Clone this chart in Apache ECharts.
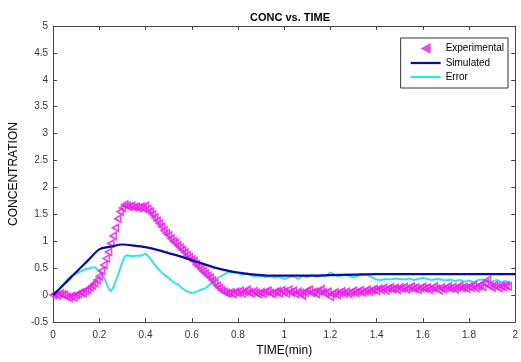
<!DOCTYPE html>
<html><head><meta charset="utf-8">
<script src="https://cdn.jsdelivr.net/npm/echarts@6/dist/echarts.min.js"></script>
<style>html,body{margin:0;padding:0;background:#fff}#c{width:521px;height:362px}</style>
</head><body><div id="c"></div>
<script>
var xTicks = [0,0.2,0.4,0.6,0.8,1,1.2,1.4,1.6,1.8,2];
var yTicks = [-0.5,0,0.5,1,1.5,2,2.5,3,3.5,4,4.5,5];
// Experimental: t = 0.00 .. 1.97 step 0.01
var expStart = 0, expStep = 0.01;
var expValues = [
 0,0.02,-0.01,0.03,0.01,0.0,-0.03,-0.05,-0.02,-0.04,
 0.0,0.02,0.05,0.04,0.08,0.1,0.14,0.18,0.22,0.28,
 0.35,0.45,0.56,0.68,0.8,0.96,1.1,1.25,1.42,1.55,
 1.62,1.68,1.66,1.64,1.66,1.63,1.64,1.62,1.64,1.61,
 1.66,1.6,1.55,1.5,1.44,1.38,1.33,1.27,1.2,1.15,
 1.11,1.05,1.0,0.97,0.92,0.88,0.84,0.79,0.74,0.7,
 0.66,0.63,0.57,0.53,0.48,0.44,0.4,0.36,0.32,0.27,
 0.22,0.17,0.13,0.09,0.06,0.04,0.03,0.05,0.02,0.06,
 0.04,0.08,0.03,0.06,0.1,0.05,0.03,0.07,0.04,0.02,
 0.05,0.03,0.06,0.08,0.04,0.02,0.05,0.07,0.03,0.09,
 0.06,0.03,0.1,0.05,0.08,0.02,0.06,0.04,-0.01,0.05,
 0.08,0.1,0.04,0.06,0.02,0.07,0.11,0.05,0.03,0.06,
 -0.03,0.02,0.05,0.0,0.04,0.07,0.03,0.06,0.02,0.05,
 0.08,0.04,0.06,0.09,0.05,0.07,0.1,0.06,0.09,0.11,
 0.08,0.12,0.1,0.13,0.09,0.12,0.14,0.11,0.13,0.1,
 0.14,0.12,0.15,0.11,0.13,0.16,0.12,0.14,0.1,0.13,
 0.15,0.12,0.14,0.1,0.13,0.16,0.12,0.09,0.14,0.11,
 0.13,0.16,0.12,0.15,0.11,0.14,0.17,0.13,0.15,0.12,
 0.16,0.14,0.18,0.13,0.16,0.19,0.15,0.22,0.28,0.17,
 0.14,0.18,0.16,0.13,0.17,0.15,0.18,0.16
];
var simTime = [0,0.05,0.1,0.15,0.2,0.25,0.3,0.35,0.4,0.45,0.5,0.55,0.6,0.65,0.7,0.75,0.8,0.85,0.9,0.95,1.0,1.1,1.2,1.3,1.4,1.6,1.8,2.0];
var simValues = [0,0.21,0.43,0.64,0.85,0.9,0.94,0.92,0.89,0.84,0.78,0.72,0.65,0.58,0.51,0.46,0.42,0.39,0.37,0.36,0.36,0.36,0.37,0.38,0.39,0.39,0.39,0.39];
var errTime = [0,0.02,0.04,0.06,0.08,0.1,0.12,0.14,0.16,0.18,0.19,0.2,0.22,0.24,0.25,0.26,0.28,0.3,0.31,0.32,0.34,0.36,0.38,0.4,0.42,0.44,0.46,0.48,0.5,0.52,0.54,0.56,0.58,0.6,0.62,0.64,0.66,0.68,0.7,0.72,0.74,0.76,0.78,0.8,0.82,0.84,0.86,0.88,0.9,0.92,0.94,0.96,0.98,1.0,1.02,1.04,1.06,1.08,1.1,1.12,1.14,1.16,1.18,1.2,1.22,1.24,1.26,1.28,1.3,1.32,1.34,1.36,1.38,1.4,1.42,1.44,1.46,1.48,1.5,1.52,1.54,1.56,1.58,1.6,1.62,1.64,1.66,1.68,1.7,1.72,1.74,1.76,1.78,1.8,1.82,1.84,1.86,1.88,1.9,1.92,1.94,1.96,1.98];
var errValues = [0,0.08,0.18,0.28,0.36,0.4,0.44,0.48,0.5,0.52,0.48,0.44,0.34,0.12,0.07,0.14,0.36,0.62,0.72,0.74,0.72,0.73,0.73,0.77,0.68,0.56,0.46,0.38,0.32,0.24,0.2,0.12,0.07,0.04,0.06,0.1,0.13,0.2,0.28,0.34,0.38,0.43,0.42,0.41,0.38,0.4,0.36,0.35,0.36,0.33,0.35,0.32,0.34,0.3,0.33,0.35,0.3,0.36,0.33,0.37,0.34,0.36,0.35,0.42,0.37,0.35,0.38,0.36,0.33,0.36,0.38,0.38,0.33,0.29,0.28,0.3,0.29,0.31,0.3,0.29,0.31,0.28,0.3,0.32,0.3,0.28,0.3,0.29,0.27,0.29,0.26,0.28,0.25,0.27,0.24,0.28,0.29,0.26,0.25,0.28,0.24,0.26,0.22];

var expData = expValues.map(function(v,i){return [+(expStart+i*expStep).toFixed(2), v];});
var simData = simTime.map(function(t,i){return [t, simValues[i]];});
var errData = errTime.map(function(t,i){return [t, errValues[i]];});

var triLeft = 'path://M10,0 L0,5.5 L10,11 Z';
var lineIcon = 'path://M0,0 L40,0 L40,3 L0,3 Z';
var axisCol = '#444';
var font = 'Liberation Sans, Arial, sans-serif';
var chart = echarts.init(document.getElementById('c'), null, {renderer:'canvas'});
function baseAxis(extra){
  return Object.assign({
    axisLine:{show:true,onZero:false,lineStyle:{color:axisCol,width:1}},
    axisTick:{show:true,inside:true,length:4,lineStyle:{color:axisCol}},
    splitLine:{show:false},
    axisLabel:{color:'#333',fontSize:10,fontFamily:font}
  }, extra);
}
chart.setOption({
  animation:false,
  backgroundColor:'#fff',
  title:{text:'CONC vs. TIME',left:285,top:7,textAlign:'center',
    textStyle:{fontSize:11,fontWeight:'bold',color:'#000',fontFamily:font}},
  grid:{left:49,right:1,top:26,bottom:40},
  legend:{orient:'vertical',right:13,top:38,width:108,
    backgroundColor:'#fff',borderColor:'#333',borderWidth:1,
    padding:[5,4,6,10],itemGap:4,itemWidth:30,itemHeight:11,
    textStyle:{fontSize:10,color:'#000',fontFamily:font},
    data:[
      {name:'Experimental',icon:triLeft,itemStyle:{color:'#e61ee6',borderColor:'#e61ee6',borderWidth:0}},
      {name:'Simulated',icon:lineIcon},
      {name:'Error',icon:lineIcon}
    ]},
  xAxis:[
    baseAxis({type:'value',min:0,max:2,interval:0.2,position:'bottom',
      name:'TIME(min)',nameLocation:'middle',nameGap:23,
      nameTextStyle:{fontSize:12,color:'#000',fontFamily:font},
      axisLabel:{color:'#333',fontSize:10,fontFamily:font,margin:8}}),
    baseAxis({type:'value',min:0,max:2,interval:0.2,position:'top',axisLabel:{show:false}})
  ],
  yAxis:[
    baseAxis({type:'value',min:-0.5,max:5,interval:0.5,position:'left',
      name:'CONCENTRATION',nameLocation:'middle',nameGap:30,
      nameTextStyle:{fontSize:12,color:'#000',fontFamily:font},
      axisLabel:{color:'#333',fontSize:10,fontFamily:font,margin:5}}),
    baseAxis({type:'value',min:-0.5,max:5,interval:0.5,position:'right',axisLabel:{show:false}})
  ],
  series:[
    {name:'Experimental',type:'scatter',data:expData,symbol:triLeft,symbolSize:[6,7],
      itemStyle:{color:'rgba(255,255,255,0)',borderColor:'#e61ee6',borderWidth:1.7},z:3},
    {name:'Simulated',type:'line',data:simData,showSymbol:false,symbol:'none',smooth:0.3,
      lineStyle:{color:'#0c0c9a',width:2.2},itemStyle:{color:'#0c0c9a'},z:4},
    {name:'Error',type:'line',data:errData,showSymbol:false,symbol:'none',
      lineStyle:{color:'#33e3e8',width:2},itemStyle:{color:'#33e3e8'},z:2}
  ]
});
</script></body></html>
